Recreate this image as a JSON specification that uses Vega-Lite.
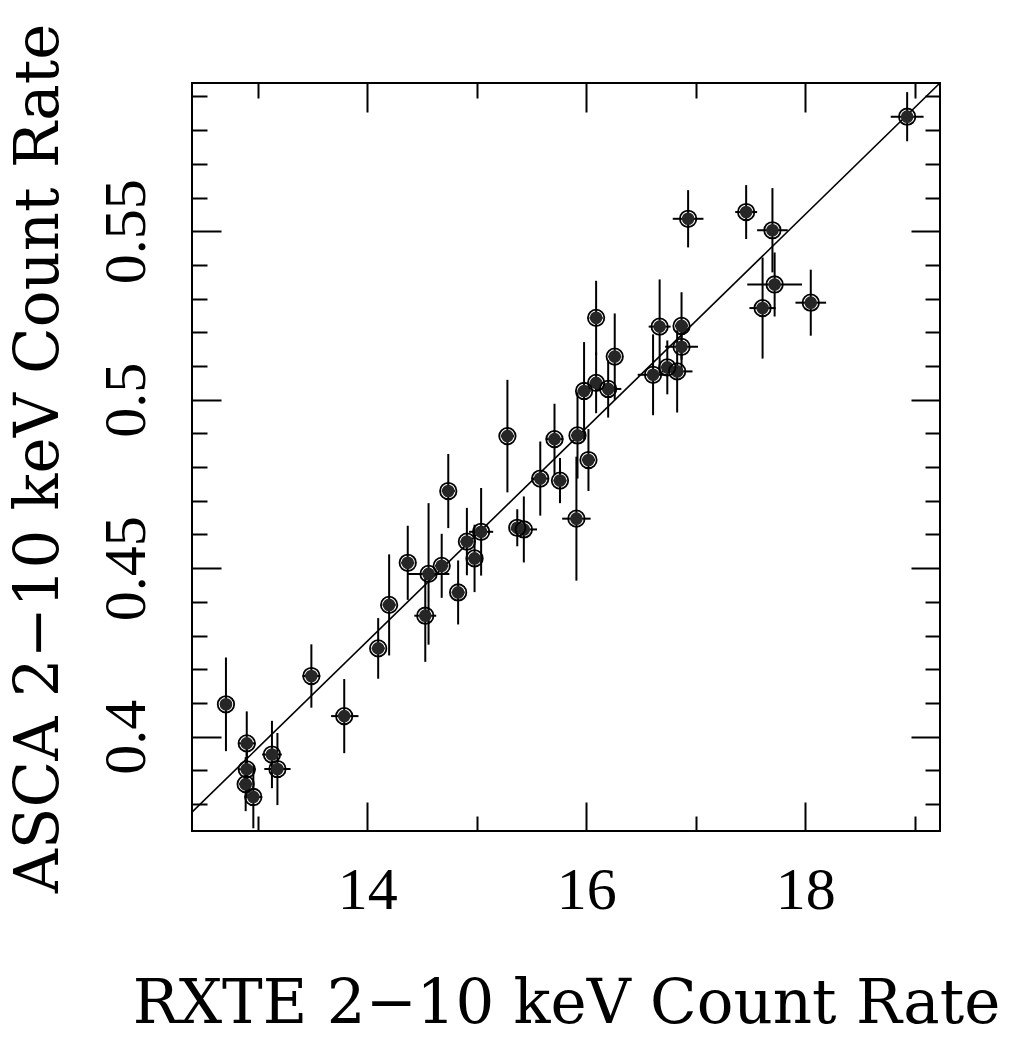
{
  "$schema": "https://vega.github.io/schema/vega-lite/v6.json",
  "width": 748,
  "height": 748,
  "autosize": {"type": "none"},
  "padding": {"left": 192, "top": 83, "right": 79, "bottom": 207},
  "background": "white",
  "config": {
    "view": {"stroke": "black", "strokeWidth": 2},
    "axis": {
      "grid": false,
      "domain": false,
      "tickColor": "black",
      "tickWidth": 2,
      "labelColor": "black",
      "labelFont": "Liberation Serif",
      "labelFontSize": 60,
      "titleFont": "DejaVu Serif",
      "titleFontSize": 61,
      "titleFontWeight": "normal",
      "titleColor": "black"
    }
  },
  "datasets": {
    "pts": [
      {"x": 12.71, "xlo": 12.66, "xhi": 12.76, "y": 0.4096, "ylo": 0.3957, "yhi": 0.4235},
      {"x": 12.90, "xlo": 12.82, "xhi": 12.98, "y": 0.3980, "ylo": 0.3885, "yhi": 0.4075},
      {"x": 12.90, "xlo": 12.82, "xhi": 12.98, "y": 0.3903, "ylo": 0.3823, "yhi": 0.3983},
      {"x": 12.89, "xlo": 12.83, "xhi": 12.95, "y": 0.3859, "ylo": 0.3779, "yhi": 0.3939},
      {"x": 12.96, "xlo": 12.88, "xhi": 13.04, "y": 0.3821, "ylo": 0.3728, "yhi": 0.3914},
      {"x": 13.13, "xlo": 13.04, "xhi": 13.22, "y": 0.3947, "ylo": 0.3847, "yhi": 0.4047},
      {"x": 13.18, "xlo": 13.06, "xhi": 13.30, "y": 0.3904, "ylo": 0.3797, "yhi": 0.4011},
      {"x": 13.49, "xlo": 13.41, "xhi": 13.57, "y": 0.4180, "ylo": 0.4086, "yhi": 0.4274},
      {"x": 13.79, "xlo": 13.67, "xhi": 13.92, "y": 0.4061, "ylo": 0.3951, "yhi": 0.4171},
      {"x": 14.10, "xlo": 14.04, "xhi": 14.16, "y": 0.4262, "ylo": 0.4172, "yhi": 0.4352},
      {"x": 14.20, "xlo": 14.14, "xhi": 14.26, "y": 0.4391, "ylo": 0.4241, "yhi": 0.4541},
      {"x": 14.37, "xlo": 14.31, "xhi": 14.43, "y": 0.4516, "ylo": 0.4406, "yhi": 0.4626},
      {"x": 14.56, "xlo": 14.37, "xhi": 14.75, "y": 0.4483, "ylo": 0.4273, "yhi": 0.4693},
      {"x": 14.53, "xlo": 14.43, "xhi": 14.63, "y": 0.4359, "ylo": 0.4222, "yhi": 0.4496},
      {"x": 14.68, "xlo": 14.62, "xhi": 14.74, "y": 0.4507, "ylo": 0.4412, "yhi": 0.4602},
      {"x": 14.83, "xlo": 14.77, "xhi": 14.89, "y": 0.4428, "ylo": 0.4333, "yhi": 0.4523},
      {"x": 14.74, "xlo": 14.68, "xhi": 14.80, "y": 0.4729, "ylo": 0.4619, "yhi": 0.4839},
      {"x": 14.91, "xlo": 14.85, "xhi": 14.97, "y": 0.4579, "ylo": 0.4479, "yhi": 0.4679},
      {"x": 14.98, "xlo": 14.92, "xhi": 15.04, "y": 0.4529, "ylo": 0.4429, "yhi": 0.4629},
      {"x": 15.04, "xlo": 14.93, "xhi": 15.15, "y": 0.4608, "ylo": 0.4478, "yhi": 0.4738},
      {"x": 15.28, "xlo": 15.22, "xhi": 15.34, "y": 0.4892, "ylo": 0.4725, "yhi": 0.5059},
      {"x": 15.37, "xlo": 15.31, "xhi": 15.43, "y": 0.4620, "ylo": 0.4565, "yhi": 0.4675},
      {"x": 15.43, "xlo": 15.31, "xhi": 15.55, "y": 0.4615, "ylo": 0.4517, "yhi": 0.4713},
      {"x": 15.58, "xlo": 15.50, "xhi": 15.66, "y": 0.4766, "ylo": 0.4656, "yhi": 0.4876},
      {"x": 15.71, "xlo": 15.63, "xhi": 15.79, "y": 0.4883, "ylo": 0.4778, "yhi": 0.4988},
      {"x": 15.76, "xlo": 15.70, "xhi": 15.82, "y": 0.4760, "ylo": 0.4693, "yhi": 0.4827},
      {"x": 15.91, "xlo": 15.78, "xhi": 16.04, "y": 0.4647, "ylo": 0.4463, "yhi": 0.4831},
      {"x": 15.92, "xlo": 15.86, "xhi": 15.98, "y": 0.4894, "ylo": 0.4766, "yhi": 0.5022},
      {"x": 16.02, "xlo": 15.96, "xhi": 16.08, "y": 0.4821, "ylo": 0.4729, "yhi": 0.4913},
      {"x": 15.98, "xlo": 15.92, "xhi": 16.04, "y": 0.5026, "ylo": 0.4881, "yhi": 0.5171},
      {"x": 16.09, "xlo": 16.03, "xhi": 16.15, "y": 0.5050, "ylo": 0.4960, "yhi": 0.5140},
      {"x": 16.20, "xlo": 16.08, "xhi": 16.32, "y": 0.5032, "ylo": 0.4947, "yhi": 0.5117},
      {"x": 16.26, "xlo": 16.20, "xhi": 16.32, "y": 0.5128, "ylo": 0.5000, "yhi": 0.5256},
      {"x": 16.09, "xlo": 16.03, "xhi": 16.15, "y": 0.5243, "ylo": 0.5133, "yhi": 0.5353},
      {"x": 16.61, "xlo": 16.47, "xhi": 16.75, "y": 0.5074, "ylo": 0.4954, "yhi": 0.5194},
      {"x": 16.67, "xlo": 16.57, "xhi": 16.77, "y": 0.5217, "ylo": 0.5077, "yhi": 0.5357},
      {"x": 16.74, "xlo": 16.68, "xhi": 16.80, "y": 0.5096, "ylo": 0.5016, "yhi": 0.5176},
      {"x": 16.83, "xlo": 16.69, "xhi": 16.97, "y": 0.5084, "ylo": 0.4962, "yhi": 0.5206},
      {"x": 16.87, "xlo": 16.81, "xhi": 16.93, "y": 0.5219, "ylo": 0.5119, "yhi": 0.5319},
      {"x": 16.87, "xlo": 16.72, "xhi": 17.02, "y": 0.5157, "ylo": 0.5087, "yhi": 0.5227},
      {"x": 16.93, "xlo": 16.79, "xhi": 17.07, "y": 0.5537, "ylo": 0.5452, "yhi": 0.5622},
      {"x": 17.46, "xlo": 17.36, "xhi": 17.56, "y": 0.5557, "ylo": 0.5477, "yhi": 0.5637},
      {"x": 17.70, "xlo": 17.56, "xhi": 17.84, "y": 0.5503, "ylo": 0.5378, "yhi": 0.5628},
      {"x": 17.72, "xlo": 17.47, "xhi": 17.97, "y": 0.5342, "ylo": 0.5247, "yhi": 0.5437},
      {"x": 17.61, "xlo": 17.49, "xhi": 17.73, "y": 0.5272, "ylo": 0.5122, "yhi": 0.5422},
      {"x": 18.05, "xlo": 17.91, "xhi": 18.19, "y": 0.5288, "ylo": 0.5190, "yhi": 0.5386},
      {"x": 18.93, "xlo": 18.78, "xhi": 19.08, "y": 0.5840, "ylo": 0.5767, "yhi": 0.5913}
    ],
    "fit": [
      {"x": 12.4, "y": 0.3776},
      {"x": 19.23, "y": 0.594}
    ]
  },
  "resolve": {"axis": {"x": "independent", "y": "independent"}},
  "layer": [
    {
      "data": {"name": "fit"},
      "mark": {"type": "line", "color": "black", "strokeWidth": 1.6, "clip": true},
      "encoding": {
        "x": {
          "field": "x", "type": "quantitative",
          "scale": {"domain": [12.4, 19.23], "nice": false, "zero": false},
          "axis": {
            "orient": "bottom",
            "values": [13, 14, 15, 16, 17, 18, 19],
            "labelExpr": "datum.value % 2 == 0 ? datum.label : ''",
            "tickSize": {"condition": {"test": "datum.value % 2 == 0", "value": -29}, "value": -15},
            "labelPadding": 106,
            "labelBaseline": "alphabetic",
            "labelAngle": 0,
            "title": "RXTE 2−10 keV Count Rate",
            "titleY": 191,
            "titleBaseline": "alphabetic"
          }
        },
        "y": {
          "field": "y", "type": "quantitative",
          "scale": {"domain": [0.372, 0.594], "nice": false, "zero": false},
          "axis": {
            "orient": "left",
            "values": [0.38, 0.39, 0.4, 0.41, 0.42, 0.43, 0.44, 0.45, 0.46, 0.47, 0.48, 0.49, 0.5, 0.51, 0.52, 0.53, 0.54, 0.55, 0.56, 0.57, 0.58, 0.59],
            "format": "~g",
            "labelExpr": "abs(datum.value*20 - round(datum.value*20)) < 0.01 ? datum.label : ''",
            "tickSize": {"condition": {"test": "abs(datum.value*20 - round(datum.value*20)) < 0.01", "value": -29}, "value": -15},
            "labelAngle": -90,
            "labelAlign": "center",
            "labelBaseline": "alphabetic",
            "labelPadding": 77,
            "title": "ASCA 2−10 keV Count Rate",
            "titleAngle": -90,
            "titleX": -135,
            "titleY": 375,
            "titleAlign": "center",
            "titleBaseline": "alphabetic"
          }
        }
      }
    },
    {
      "data": {"name": "pts"},
      "mark": {"type": "rule", "color": "black", "strokeWidth": 2, "clip": true},
      "encoding": {
        "x": {"field": "x", "type": "quantitative", "axis": null},
        "y": {"field": "ylo", "type": "quantitative", "axis": null},
        "y2": {"field": "yhi"}
      }
    },
    {
      "data": {"name": "pts"},
      "mark": {"type": "rule", "color": "black", "strokeWidth": 2, "clip": true},
      "encoding": {
        "x": {"field": "xlo", "type": "quantitative", "axis": null},
        "x2": {"field": "xhi"},
        "y": {"field": "y", "type": "quantitative", "axis": null}
      }
    },
    {
      "data": {"name": "pts"},
      "mark": {"type": "point", "shape": "circle", "filled": true, "fill": "#262626", "size": 160, "opacity": 1},
      "encoding": {
        "x": {"field": "x", "type": "quantitative", "axis": null},
        "y": {"field": "y", "type": "quantitative", "axis": null}
      }
    },
    {
      "data": {"name": "pts"},
      "mark": {"type": "point", "shape": "circle", "filled": false, "stroke": "black", "strokeWidth": 1.8, "size": 270, "opacity": 1},
      "encoding": {
        "x": {
          "field": "x", "type": "quantitative",
          "axis": {
            "orient": "top",
            "values": [13, 14, 15, 16, 17, 18, 19],
            "labels": false,
            "title": null,
            "domain": false,
            "tickSize": {"condition": {"test": "datum.value % 2 == 0", "value": -29}, "value": -15}
          }
        },
        "y": {
          "field": "y", "type": "quantitative",
          "axis": {
            "orient": "right",
            "values": [0.38, 0.39, 0.4, 0.41, 0.42, 0.43, 0.44, 0.45, 0.46, 0.47, 0.48, 0.49, 0.5, 0.51, 0.52, 0.53, 0.54, 0.55, 0.56, 0.57, 0.58, 0.59],
            "labels": false,
            "title": null,
            "domain": false,
            "tickSize": {"condition": {"test": "abs(datum.value*20 - round(datum.value*20)) < 0.01", "value": -29}, "value": -15}
          }
        }
      }
    }
  ]
}
